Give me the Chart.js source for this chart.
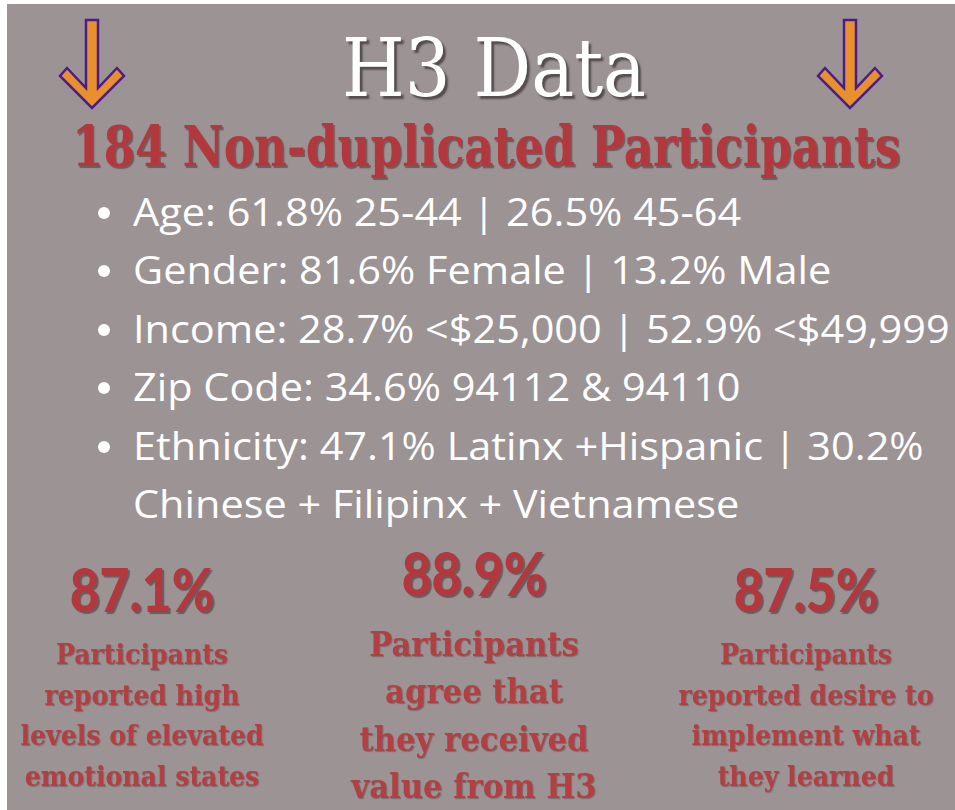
<!DOCTYPE html>
<html>
<head>
<meta charset="utf-8">
<script src="https://cdn.jsdelivr.net/npm/chart.js@4.4.1/dist/chart.umd.min.js"></script>
<style>
  html, body { margin: 0; padding: 0; background: #fff; }
  body { width: 955px; height: 810px; overflow: hidden; position: relative; }
  #panel { position: absolute; left: 7px; top: 4px; right: 0; bottom: 0; background: #9b9394; }
  .txt { position: absolute; white-space: nowrap; transform-origin: 0 0; line-height: 1; }
  #title { font-family: "DejaVu Serif", serif; font-size: 81px; color: #fff;
           text-shadow: 3px 3px 2px rgba(60,52,54,0.75); }
  #subtitle { font-family: "DejaVu Serif", serif; font-weight: bold; font-size: 56px; color: #b3383e;
              text-shadow: 2px 2px 1px rgba(90,70,72,0.7); }
  .bullet { font-family: "Open Sans", sans-serif; font-size: 38px; color: #fff; }
  .dot { position: absolute; width: 12px; height: 12px; border-radius: 50%; background: #fff; }
  #stats { position: absolute; left: 0; top: 540px; width: 955px; height: 270px; }
  svg { position: absolute; left: 0; top: 0; }
</style>
</head>
<body>
<div id="panel"></div>
<svg width="955" height="130">
  <polygon id="arrowL" fill="#e9902e" stroke="#4b1d8c" stroke-width="2.5" stroke-linejoin="miter"></polygon>
  <polygon id="arrowR" fill="#e9902e" stroke="#4b1d8c" stroke-width="2.5" stroke-linejoin="miter"></polygon>
</svg>
<div id="title" class="txt">H3 Data</div>
<div id="subtitle" class="txt">184 Non-duplicated Participants</div>
<div id="bullets"></div>
<div id="stats"><canvas id="chart"></canvas></div>

<script>
// ---- data ----
const titleText = "H3 Data";
const participants = 184;
const demographics = [
  "Age: 61.8% 25-44 | 26.5% 45-64",
  "Gender: 81.6% Female | 13.2% Male",
  "Income: 28.7% <$25,000 | 52.9% <$49,999",
  "Zip Code: 34.6% 94112 & 94110",
  "Ethnicity: 47.1% Latinx +Hispanic | 30.2%"
];
const ethnicityWrap = "Chinese + Filipinx + Vietnamese";

const statCategories = ["Emotional states", "Value from H3", "Implement learning"];
const statValues = [87.1, 88.9, 87.5];
const statLines = [
  ["Participants", "reported high", "levels of elevated", "emotional states"],
  ["Participants", "agree that", "they received", "value from H3"],
  ["Participants", "reported desire to", "implement what", "they learned"]
];

// ---- header ----
document.getElementById("title").textContent = titleText;
document.getElementById("subtitle").textContent = participants + " Non-duplicated Participants";

function place(el, left, top, width) {
  el.style.left = left + "px";
  el.style.top = top + "px";
  if (width) el.style.transform = `scaleX(${width / el.offsetWidth})`;
}
place(document.getElementById("title"), 342, 28, 304);
place(document.getElementById("subtitle"), 72, 118, 828);

// arrows
function arrowPoints(cx) {
  return [
    [cx - 6, 20], [cx + 6, 20], [cx + 6, 88], [cx + 25, 68], [cx + 32, 76],
    [cx, 108], [cx - 32, 76], [cx - 25, 68], [cx - 6, 88]
  ].map(p => p.join(",")).join(" ");
}
document.getElementById("arrowL").setAttribute("points", arrowPoints(92));
document.getElementById("arrowR").setAttribute("points", arrowPoints(850));

// bullets
const bulletBox = document.getElementById("bullets");
const allLines = demographics.concat([ethnicityWrap]);
const lineEls = allLines.map((t, i) => {
  const d = document.createElement("div");
  d.className = "txt bullet";
  d.textContent = t;
  bulletBox.appendChild(d);
  const base = 226 + i * 58.4;
  d.style.left = "133px";
  d.style.top = (base - 34) + "px";
  if (i < demographics.length) {
    const dot = document.createElement("div");
    dot.className = "dot";
    dot.style.left = "98px";
    dot.style.top = (base - 19) + "px";
    bulletBox.appendChild(dot);
  }
  return d;
});
const sx = 817 / lineEls[2].offsetWidth;
lineEls.forEach(d => d.style.transform = `scaleX(${sx})`);

// ---- stats chart ----
const colStyle = [
  { pctBase: 72, first: 117, gap: 40.5, size: 28, sx: 0.90 },
  { pctBase: 56, first: 107, gap: 47.5, size: 33, sx: 0.93 },
  { pctBase: 72, first: 117, gap: 40.5, size: 28, sx: 0.90 }
];

const statText = {
  id: "statText",
  afterDatasetsDraw(chart) {
    const ctx = chart.ctx;
    const xs = chart.scales.x;
    const vals = chart.data.datasets[0].data;
    vals.forEach((v, i) => {
      const x = xs.getPixelForValue(i);
      const st = colStyle[i];
      ctx.save();
      ctx.textAlign = "center";
      ctx.fillStyle = "#b3383e";
      ctx.shadowColor = "rgba(70,55,58,0.6)";
      ctx.shadowOffsetX = 2;
      ctx.shadowOffsetY = 2;
      ctx.shadowBlur = 1;
      ctx.textBaseline = "alphabetic";
      ctx.font = "900 60px Lato";
      ctx.save();
      ctx.translate(x, st.pctBase);
      ctx.scale(0.86, 1);
      ctx.fillText(v.toFixed(1) + "%", 0, 0);
      ctx.restore();

      ctx.fillStyle = "#b23f42";
      ctx.shadowOffsetX = 1;
      ctx.shadowOffsetY = 1;
      ctx.shadowColor = "rgba(70,55,58,0.4)";
      ctx.textBaseline = "middle";
      ctx.font = `bold ${st.size}px "DejaVu Serif"`;
      statLines[i].forEach((t, j) => {
        ctx.save();
        ctx.translate(x, st.first + j * st.gap);
        ctx.scale(st.sx, 1);
        ctx.fillText(t, 0, 0);
        ctx.restore();
      });
      ctx.restore();
    });
  }
};

new Chart(document.getElementById("chart"), {
  type: "bar",
  data: {
    labels: statCategories,
    datasets: [{
      label: "Participants %",
      data: statValues,
      backgroundColor: "rgba(0,0,0,0)"
    }]
  },
  options: {
    responsive: true,
    maintainAspectRatio: false,
    animation: false,
    layout: { padding: { left: 142, right: 149, top: 0, bottom: 0 } },
    plugins: { legend: { display: false }, tooltip: { enabled: false } },
    scales: {
      x: { display: false, offset: false },
      y: { display: false, min: 0, max: 100 }
    }
  },
  plugins: [statText]
});
</script>
</body>
</html>
